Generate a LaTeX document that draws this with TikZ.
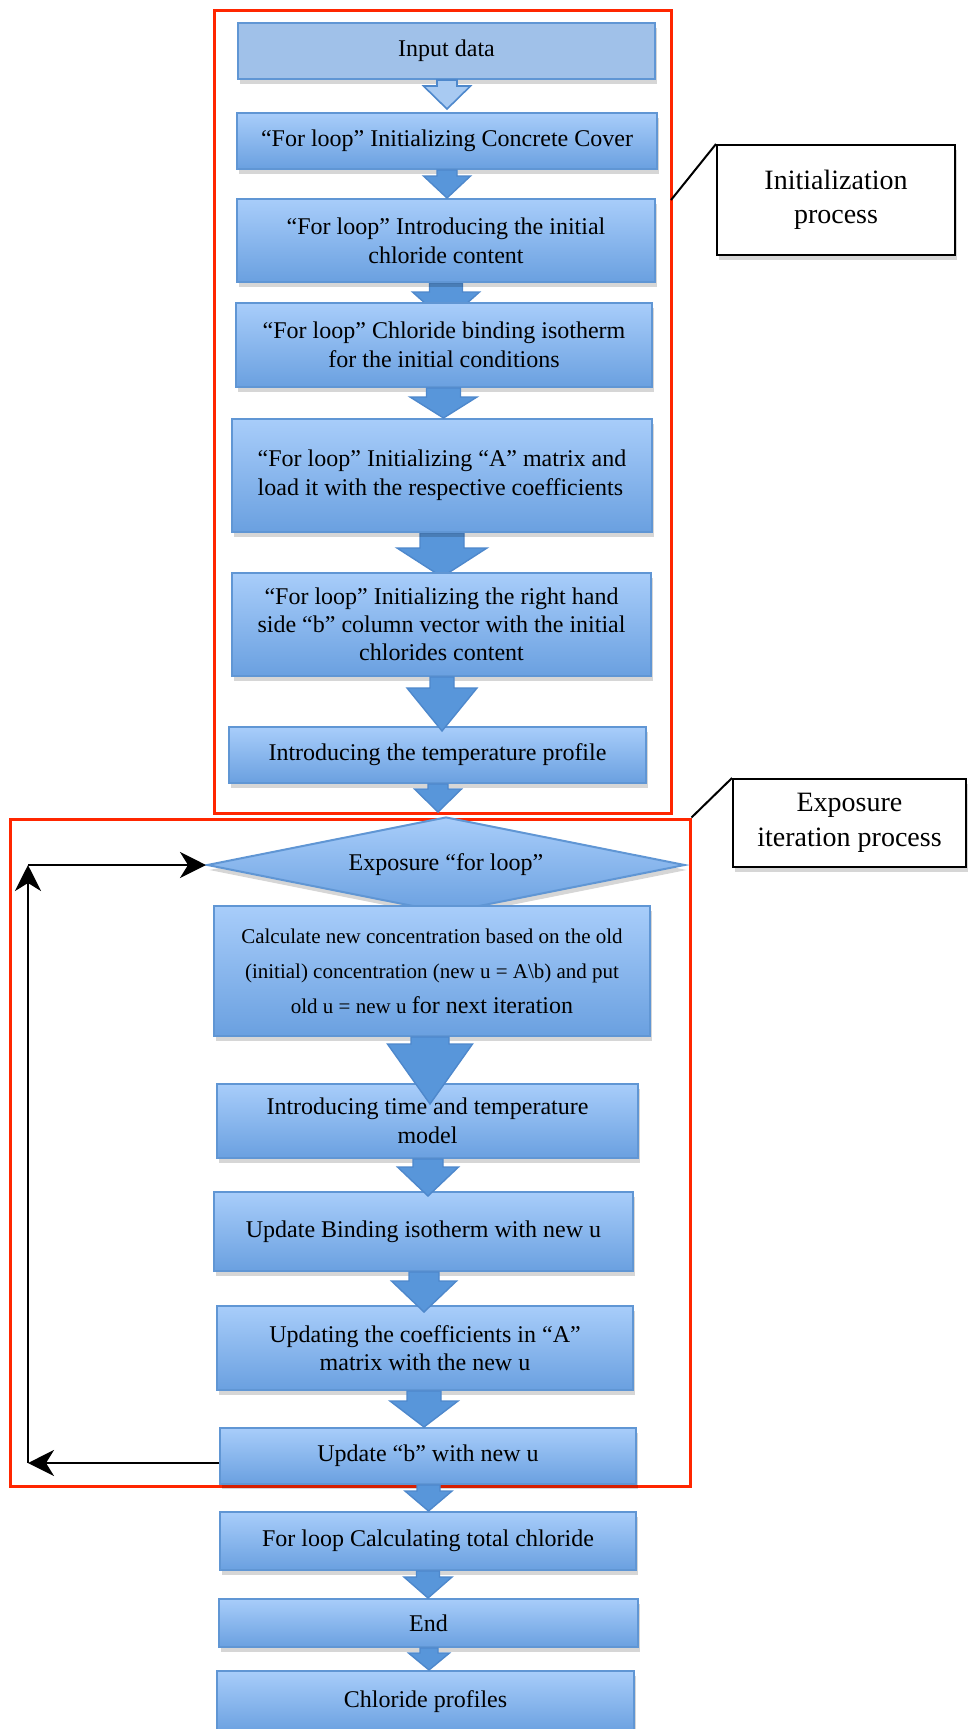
\documentclass[tikz,border=0pt]{standalone}
\usepackage{fontspec}
\setmainfont{Liberation Serif}
\usetikzlibrary{shapes.geometric,arrows.meta,calc,shadows}
\definecolor{boxtop}{RGB}{168,205,250}
\definecolor{boxbot}{RGB}{106,160,224}
\definecolor{boxline}{RGB}{96,150,212}
\definecolor{arrfill}{RGB}{88,150,218}
\definecolor{arrline}{RGB}{78,136,204}
\definecolor{inputfill}{RGB}{160,193,233}
\definecolor{hollowfill}{RGB}{168,202,242}
\definecolor{redline}{RGB}{255,38,0}
\pgfdeclarelayer{bg}
\pgfsetlayers{bg,main}
\tikzset{
  sz/.style 2 args={minimum width={#1*0.5pt},minimum height={#2*0.5pt}},
  softshadow/.style={drop shadow={shadow xshift=1pt,shadow yshift=-2.5pt,opacity=0.16,fill=black}},
  stepbox/.style={draw=boxline,line width=1pt,top color=boxtop,bottom color=boxbot,
    align=center,font=\fontsize{12}{14.3}\selectfont,inner sep=2pt,softshadow},
  inputbox/.style={stepbox,top color=inputfill,bottom color=inputfill},
  frame/.style={draw=redline,line width=1.5pt,inner sep=0pt},
  callout/.style={draw=black,line width=1pt,fill=white,align=center,
    font=\fontsize{14}{16.8}\selectfont,softshadow},
  barrow/.style={fill=arrfill,draw=arrline,line width=0.7pt,line join=miter},
  hollow/.style={fill=hollowfill,draw=arrline,line width=0.8pt},
  fb/.style={draw=black,line width=1.2pt,-{Stealth[length=13pt,width=13pt,inset=4pt]}}
}
% #1 opts, #2 from, #3 to, #4 centre x, #5 shaft half width, #6 head half width, #7 head length, #8 tip overlap
\newcommand\blockarrow[8][]{%
  \path[barrow,#1] let \p1=(#2.south), \p2=(#3.north) in
    ({(#4-#5)*0.5pt},\y1) -- ({(#4-#5)*0.5pt},{\y2-(#8)*0.5pt+(#7)*0.5pt})
    -- ({(#4-#6)*0.5pt},{\y2-(#8)*0.5pt+(#7)*0.5pt}) -- ({#4*0.5pt},{\y2-(#8)*0.5pt})
    -- ({(#4+#6)*0.5pt},{\y2-(#8)*0.5pt+(#7)*0.5pt}) -- ({(#4+#5)*0.5pt},{\y2-(#8)*0.5pt+(#7)*0.5pt})
    -- ({(#4+#5)*0.5pt},\y1) -- cycle;}
\begin{document}
\begin{tikzpicture}[x=0.5pt,y=-0.5pt]
\path[use as bounding box] (0,0) rectangle (968,1729);
\begin{pgfonlayer}{bg}
\fill[white] (0,0) rectangle (968,1729);
\end{pgfonlayer}
\clip (0,0) rectangle (968,1729);

% group frames
\node[frame,sz={457}{803}] (frameA) at (442.5,411.5) {};
\node[frame,sz={680}{667}] (frameB) at (350,1152.5) {};

% boxes
\node[inputbox,sz={417}{56}] (n1) at (446.5,51) {Input data};
\node[stepbox,sz={420}{56}] (n2) at (447,141) {“For loop” Initializing Concrete Cover};
\node[stepbox,sz={418}{83}] (n3) at (446,240.5) {“For loop” Introducing the initial\\chloride content};
\node[stepbox,sz={416}{84}] (n4) at (444,345) {“For loop” Chloride binding isotherm\\for the initial conditions};
\node[stepbox,sz={420}{113},align=left] (n5) at (442,475.5) {“For loop” Initializing “A” matrix and\\load it with the respective coefficients};
\node[stepbox,sz={419}{103},font=\fontsize{12}{14}\selectfont] (n6) at (441.5,624.5) {“For loop” Initializing the right hand\\side “b” column vector with the initial\\chlorides content};
\node[stepbox,sz={417}{56}] (n7) at (437.5,755) {Introducing the temperature profile};
\node[stepbox,diamond,aspect=5,inner sep=0pt,sz={478}{96}] (dia) at (446,865) {Exposure “for loop”};
\node[stepbox,sz={436}{130},font=\fontsize{10.5}{17.5}\selectfont] (n8) at (432,971)
  {Calculate new concentration based on the old\\(initial) concentration (new u = A\textbackslash b) and put\\old u = new u {\fontsize{12}{17.5}\selectfont for next iteration}};
\node[stepbox,sz={421}{74}] (n9) at (427.5,1121) {Introducing time and temperature\\model};
\node[stepbox,sz={419}{79}] (n10) at (423.5,1231.5) {Update Binding isotherm with new u};
\node[stepbox,sz={416}{84}] (n11) at (425,1348) {Updating the coefficients in “A”\\matrix with the new u};
\node[stepbox,sz={416}{56}] (n12) at (428,1456) {Update “b” with new u};
\node[stepbox,sz={416}{58}] (n13) at (428,1541) {For loop Calculating total chloride};
\node[stepbox,sz={419}{48}] (n14) at (428.5,1623) {End};
\node[stepbox,sz={417}{62}] (n15) at (425.5,1702) {Chloride profiles};

% block arrows
\blockarrow[hollow]{n1}{n2}{447}{10}{23.5}{23}{-3}
\blockarrow{n2}{n3}{447}{10}{23.5}{22}{0}
\begin{pgfonlayer}{bg}
\blockarrow{n3}{n4}{446}{16.5}{33.5}{30}{20}
\blockarrow{n5}{n6}{442}{22}{45}{29}{5}
\end{pgfonlayer}
\blockarrow{n4}{n5}{443.5}{17}{33.5}{21}{0}
\blockarrow{n6}{n7}{442}{12}{35}{43}{5}
\blockarrow{n7}{dia}{438}{10}{23.5}{23}{-4}
\blockarrow{n8}{n9}{430}{19}{42.5}{60}{21}
\blockarrow{n9}{n10}{428}{15}{30.5}{29}{5}
\blockarrow{n10}{n11}{424}{15}{32.5}{31}{7}
\blockarrow{n11}{n12}{424}{17}{34}{26}{0}
\blockarrow{n12}{n13}{428.5}{11.5}{23.5}{20}{0}
\blockarrow{n13}{n14}{428}{11.5}{24}{21}{0}
\blockarrow{n14}{n15}{429}{9}{20.5}{17}{0}

% callouts
\node[callout,sz={238}{110}] (cal1) at (836,200) {Initialization\\process};
\node[callout,sz={233}{88},font=\fontsize{14}{17.5}\selectfont] (cal2) at (849.5,823) {Exposure\\iteration process};
\coordinate (c1a) at (671,200);
\draw[line width=1pt] (c1a) -- (cal1.north west);
\draw[line width=1pt] (frameB.north east) -- (cal2.north west);

% feedback loop
\coordinate (fbl) at (28,1463);
\coordinate (fbt) at (28,865);
\draw[fb] ([yshift=-3.5pt]n12.west) -- (fbl);
\draw[fb] (fbl) -- (fbt);
\draw[fb] (fbt) -- (dia.west);
\end{tikzpicture}
\end{document}
